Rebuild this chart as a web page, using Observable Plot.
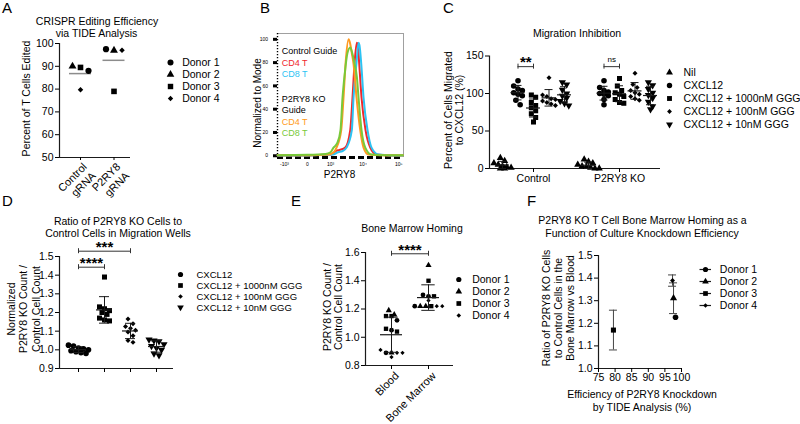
<!DOCTYPE html>
<html><head><meta charset="utf-8">
<script src="https://cdn.jsdelivr.net/npm/d3@7"></script>
<script src="https://cdn.jsdelivr.net/npm/@observablehq/plot@0.6"></script>
<style>
html,body{margin:0;padding:0;background:#fff;}
#root{position:relative;width:800px;height:424px;overflow:hidden;background:#fff;}
#root svg{position:absolute;left:0;top:0;}
</style></head><body><div id="root"></div>
<script>
// ================= DATA =================
const DONORS = ["Donor 1", "Donor 2", "Donor 3", "Donor 4"];
const DONOR_SYMBOLS = ["circle", "triangle", "square", "diamond2"];

// A – CRISPR editing efficiency (% edited), by donor
const A_GUIDES = ["Control\ngRNA", "P2RY8\ngRNA"];
const A_CONTROL = [88, 90, 89.5, 79.7];
const A_P2RY8 = [97.5, 97, 79, 97];
const A_YDOM = [50, 100];
const A_YTICKS = [50, 60, 70, 80, 90, 100];

// B – flow histograms (x: fluorescence, y: % of mode)
const B_RED_X = [-1700, 0, 1084, 1500, 2000, 3010, 4254, 4970, 5688, 6631, 7100, 7770, 9048, 11770, 16000, 24000, 50000, 130000];
const B_RED_Y = [0.3, 0.3, 1, 4, 5, 7, 22, 50, 79, 97, 95, 79, 50, 22, 7, 1, 0.3, 0.3];
const B_BLUE_X = [-1700, 0, 1200, 1800, 2500, 3297, 4743, 5318, 6500, 7423, 7900, 8880, 10320, 13410, 17380, 27300, 60000, 130000];
const B_BLUE_Y = [0.3, 0.3, 1, 3, 4, 7, 22, 50, 80, 97, 95, 79, 50, 22, 7, 1, 0.3, 0.3];
const B_ORANGE_X = [-1700, 0, 500, 843, 1300, 1603, 2266, 2671, 3100, 3784, 4254, 4743, 5318, 6500, 8310, 10320, 14300, 30000, 130000];
const B_ORANGE_Y = [0.5, 0.5, 0.8, 1, 3, 7, 22, 50, 80, 100, 96, 88, 79, 50, 22, 7, 1, 0.5, 0.5];
const B_GREEN_X = [-1700, 0, 644, 1000, 1272, 1700, 2150, 2487, 2900, 3500, 4254, 4900, 5700, 6631, 7423, 9048, 11550, 17380, 40000, 130000];
const B_GREEN_Y = [0.5, 0.8, 1.5, 3, 7, 11, 22, 50, 70, 88, 93, 88, 79, 68, 50, 22, 7, 1, 0.5, 0.5];
const B_XDOM = [-1728, 135000];
const B_YDOM = [-1.5, 105];
const B_XTICKS = [-1000, 0, 1000, 10000, 100000];
const B_XTICK_LABELS = ["-10³", "0", "10³", "10⁴", "10⁵"];
const B_YTICKS = [0, 20, 40, 60, 80, 100];

// C – migration (% of CXCL12)
const C_GENOTYPES = ["Control", "P2RY8 KO"];
const C_TREATMENTS = ["Nil", "CXCL12", "CXCL12 + 1000nM GGG", "CXCL12 + 100nM GGG", "CXCL12 + 10nM GGG"];
const C_SYMBOLS = ["triangle", "circle", "square", "diamond2", "triangle"];
const C_ROTATE = [0, 0, 0, 0, 180];
const C_CTRL_NIL = [14, 10, 7, 5, 3, 2, 1, 0, 0];
const C_CTRL_CXCL12 = [117, 110, 106, 104, 101, 99, 97, 91, 85];
const C_CTRL_1000 = [98, 95, 88, 84, 81, 77, 73, 68, 62];
const C_CTRL_100 = [121, 98, 96, 93, 92, 90, 88, 86, 84];
const C_CTRL_10 = [115, 112, 105, 100, 97, 94, 90, 87, 84];
const C_KO_NIL = [12, 9, 7, 5, 3, 2, 1, 0, 0];
const C_KO_CXCL12 = [117, 108, 104, 102, 100, 99, 97, 92, 85];
const C_KO_1000 = [120, 110, 104, 101, 99, 96, 92, 88, 87];
const C_KO_100 = [127, 112, 108, 104, 101, 99, 96, 93, 91];
const C_KO_10 = [115, 111, 106, 101, 98, 94, 89, 83, 79];
const C_YDOM = [0, 150];
const C_YTICKS = [0, 50, 100, 150];
const C_SIG_Y = 135.8;

// D – normalized KO / control ratio
const D_TREATMENTS = ["CXCL12", "CXCL12 + 1000nM GGG", "CXCL12 + 100nM GGG", "CXCL12 + 10nM GGG"];
const D_SYMBOLS = ["circle", "square", "diamond2", "triangle"];
const D_ROTATE = [0, 0, 0, 180];
const D_CXCL12 = [1.025, 1.02, 1.01, 1.005, 1.0, 0.995, 0.99, 0.985, 0.98];
const D_1000 = [1.39, 1.23, 1.22, 1.21, 1.20, 1.19, 1.17, 1.16, 1.155];
const D_100 = [1.165, 1.14, 1.125, 1.115, 1.105, 1.095, 1.075, 1.05, 1.04];
const D_10 = [1.055, 1.05, 1.045, 1.03, 1.02, 1.01, 1.0, 0.98, 0.97];
const D_YDOM = [0.9, 1.5];
const D_YTICKS = [0.9, 1.0, 1.1, 1.2, 1.3, 1.4, 1.5];
const D_SIG = [{a: 0, b: 1, y: 1.4427, label: "****"}, {a: 0, b: 2, y: 1.5284, label: "***"}];

// E – bone marrow homing
const E_TISSUES = ["Blood", "Bone Marrow"];
const E_BLOOD_D1 = [1.12, 1.05, 0.89];
const E_BLOOD_D2 = [1.19, 1.16, 0.89];
const E_BLOOD_D3 = [1.15, 1.15, 1.06, 1.04];
const E_BLOOD_D4 = [0.91, 0.89, 0.89, 0.86];
const E_BM_D1 = [1.30, 1.29, 1.22];
const E_BM_D2 = [1.51, 1.22, 1.22];
const E_BM_D3 = [1.40, 1.29, 1.22];
const E_BM_D4 = [1.26, 1.22, 1.22];
const E_YDOM = [0.8, 1.6];
const E_YTICKS = [0.8, 1.0, 1.2, 1.4, 1.6];
const E_SIG_Y = 1.591;

// F – homing ratio vs knockdown efficiency
const F_EFFICIENCY = [98.2, 97.6, 79.5, 97.3];
const F_RATIO = [1.227, 1.311, 1.17, 1.389];
const F_ERROR = [0, 0.068, 0.088, 0.025];
const F_XDOM = [75, 100];
const F_XTICKS = [75, 80, 85, 90, 95, 100];
const F_YDOM = [1.0, 1.5];
const F_YTICKS = [1.0, 1.1, 1.2, 1.3, 1.4, 1.5];

// ================= LAYOUT =================
const FONT = "'Liberation Sans', Arial, Helvetica, sans-serif";
const AXIS = "#1a1a1a";
const LAYOUT = {
  A: {left: 59, right: 130, top: 43, bottom: 157, c0: 80, c1: 113.5},
  B: {left: 277, right: 403, top: 33, bottom: 157},
  C: {left: 489, right: 660, top: 55.5, bottom: 168, c0: 533, c1: 619, subStep: 15.5},
  D: {left: 59, right: 173, top: 256, bottom: 368, c0: 78, c3: 156},
  E: {left: 365, right: 453, top: 252, bottom: 365, c0: 391, c1: 428},
  F: {left: 598, right: 681, top: 255, bottom: 368}
};
const COLORS = {red: "#f0282c", blue: "#2cc3f3", orange: "#ff9a20", green: "#78c93a"};

const root = document.getElementById("root");
const add = el => (root.appendChild(el), el);
const SVG_STYLE = `position:absolute;left:0;top:0;background:transparent;overflow:visible;font-family:${FONT};font-size:10.5px;color:#000;`;
function frameOf(P) {
  return {width: 800, height: 424, marginLeft: P.left, marginRight: 800 - P.right,
          marginTop: P.top, marginBottom: 424 - P.bottom, style: SVG_STYLE};
}
function domainFrom(P, p0, v0, p1, v1) {
  const k = (p1 - p0) / (v1 - v0);
  return [v0 + (P.left - p0) / k, v0 + (P.right - p0) / k];
}
// Prism-like scatter: values that are close vertically are laid side by side
function spreadOffsets(values, pxPerY, thrPx, stepPx) {
  const idx = d3.range(values.length).sort((a, b) => values[b] - values[a]);
  const offs = new Array(values.length).fill(0);
  let row = [];
  const flush = () => { row.forEach((i, j) => offs[i] = (j - (row.length - 1) / 2) * stepPx); row = []; };
  for (const i of idx) {
    if (row.length && (values[row[0]] - values[i]) * pxPerY > thrPx) flush();
    row.push(i);
  }
  flush();
  return offs;
}
const SYM_SCALE = {circle: 1, triangle: 0.95, square: 1.02, diamond2: 0.8};
function symbolDots(data, R, xKey = "x", yKey = "v") {
  return Object.keys(SYM_SCALE).map(s => Plot.dot(data, {
    filter: d => d.symbol === s, x: xKey, y: yKey, symbol: s, r: R * SYM_SCALE[s],
    rotate: d => d.rotate || 0, fill: "#000", stroke: "none"
  }));
}
function axisLines(xdom, ydom) {
  return [Plot.ruleX([xdom[0]], {stroke: AXIS, strokeWidth: 1.2}),
          Plot.ruleY([ydom[0]], {stroke: AXIS, strokeWidth: 1.2})];
}
// rotated (-45°) category labels, placed with the plot's own x scale
function rotatedLabels(plot, labels, axisY, dx, dy, size = 11) {
  const sx = plot.scale("x");
  const g = d3.select(root).append("svg").attr("width", 800).attr("height", 424)
    .attr("style", `position:absolute;left:0;top:0;overflow:visible;font-family:${FONT};`);
  labels.forEach((lab, i) => {
    const t = g.append("text")
      .attr("transform", `translate(${sx.apply(i) + dx},${axisY + dy}) rotate(-45)`)
      .attr("text-anchor", "end").attr("font-size", size).attr("fill", "#000");
    lab.split("\n").forEach((line, j) => t.append("tspan").attr("x", 0).attr("y", 0)
      .attr("dy", (0.71 + j * 1.15) + "em").text(line));
  });
}
function legendPlot({labels, symbols, rotates, x, y0, y1, textX, fontSize = 10.5, R = 2.8, line = false}) {
  const rows = labels.map((label, i) => ({label, symbol: symbols[i], rotate: rotates ? rotates[i] : 0, x: 0}));
  return Plot.plot({
    width: 800, height: 424, margin: 0, style: SVG_STYLE,
    x: {domain: [0, 1], range: [x, x + 1], axis: null},
    y: {type: "point", domain: labels, range: [y0, y1], axis: null},
    marks: [
      line ? Plot.ruleY(rows, {y: "label", x1: -5.5, x2: 6, stroke: AXIS, strokeWidth: 1.2}) : null,
      ...symbolDots(rows, R, "x", "label"),
      Plot.text(rows, {x: 0, y: "label", text: "label", dx: textX - x, textAnchor: "start", fontSize, fill: "#000"})
    ]
  });
}
const fmt1 = d3.format(".1f");

// ================= PANEL A =================
{
  const P = LAYOUT.A;
  const XD = domainFrom(P, P.c0, 0, P.c1, 1);
  const kx = (P.right - P.left) / (XD[1] - XD[0]);
  const ky = (P.bottom - P.top) / (A_YDOM[1] - A_YDOM[0]);
  const groups = [A_CONTROL, A_P2RY8];
  const data = groups.flatMap((vals, g) => {
    const o = spreadOffsets(vals, ky, 6, 8);
    return vals.map((v, i) => ({x: g + o[i] / kx, v, symbol: DONOR_SYMBOLS[i]}));
  });
  const means = groups.map((vals, g) => ({g, mean: d3.mean(vals)}));
  const plot = add(Plot.plot({...frameOf(P), x: {domain: XD}, y: {domain: A_YDOM},
    marks: [
      ...axisLines(XD, A_YDOM),
      Plot.axisY({ticks: A_YTICKS, tickSize: 4, tickPadding: 2, fontSize: 10.5, label: null}),
      Plot.axisX({ticks: [0, 1], tickFormat: () => "", tickSize: 3, label: null}),
      Plot.ruleY(means, {y: "mean", x1: d => d.g - 11 / kx, x2: d => d.g + 11 / kx, stroke: "#8c8c8c", strokeWidth: 1.5}),
      ...symbolDots(data, 3.1)
    ]}));
  rotatedLabels(plot, A_GUIDES, P.bottom, 2, 5);
  add(legendPlot({labels: DONORS, symbols: DONOR_SYMBOLS, x: 170, y0: 54, y1: 105.3, textX: 181.7, R: 3}));
}

// ================= PANEL B =================
{
  const P = LAYOUT.B;
  const curves = [[B_RED_X, B_RED_Y, COLORS.red], [B_BLUE_X, B_BLUE_Y, COLORS.blue],
                  [B_ORANGE_X, B_ORANGE_Y, COLORS.orange], [B_GREEN_X, B_GREEN_Y, COLORS.green]];
  const labelMap = new Map(B_XTICKS.map((t, i) => [t, B_XTICK_LABELS[i]]));
  add(Plot.plot({...frameOf(P),
    x: {type: "symlog", constant: 300, domain: B_XDOM},
    y: {domain: B_YDOM},
    marks: [
      Plot.ruleY([B_YDOM[1]], {stroke: "#a0a0a0", strokeWidth: 1}),
      Plot.ruleX([B_XDOM[1]], {stroke: "#a0a0a0", strokeWidth: 1}),
      Plot.ruleX([B_XDOM[0]], {stroke: "#000", strokeWidth: 1.4, strokeDasharray: "1.2,1.8"}),
      Plot.ruleY([B_YDOM[0]], {stroke: "#000", strokeWidth: 3, strokeDasharray: "6,3"}),
      Plot.axisY({ticks: B_YTICKS, tickSize: 4, strokeWidth: 3, tickPadding: 5.5, fontSize: 5, label: null}),
      Plot.axisX({ticks: B_XTICKS, tickFormat: d => labelMap.get(d), tickSize: 0, tickPadding: 5, fontSize: 5, label: null}),
      ...curves.map(([xs, ys, c]) => Plot.line(xs.map((x, i) => ({x, y: ys[i]})),
        {x: "x", y: "y", stroke: c, strokeWidth: 2, curve: "monotone-x", strokeLinejoin: "round"}))
    ]}));
}

// ================= PANEL C =================
{
  const P = LAYOUT.C;
  const XD = domainFrom(P, P.c0, 0, P.c1, 1);
  const kx = (P.right - P.left) / (XD[1] - XD[0]);
  const ky = (P.bottom - P.top) / (C_YDOM[1] - C_YDOM[0]);
  const table = [[C_CTRL_NIL, C_CTRL_CXCL12, C_CTRL_1000, C_CTRL_100, C_CTRL_10],
                 [C_KO_NIL, C_KO_CXCL12, C_KO_1000, C_KO_100, C_KO_10]];
  const center = (g, t) => g + (t - 2) * P.subStep / kx;
  const data = [], stats = [];
  table.forEach((row, g) => row.forEach((vals, t) => {
    const o = spreadOffsets(vals, ky, 5, 4.3);
    vals.forEach((v, i) => data.push({x: center(g, t) + o[i] / kx, v, symbol: C_SYMBOLS[t], rotate: C_ROTATE[t]}));
    stats.push({x: center(g, t), mean: d3.mean(vals), sd: d3.deviation(vals)});
  }));
  const caps = stats.flatMap(s => [{x: s.x, y: s.mean - s.sd}, {x: s.x, y: s.mean + s.sd}]);
  const sig = [{x1: center(0, 1), x2: center(0, 2), y: C_SIG_Y, label: "**"},
               {x1: center(1, 1), x2: center(1, 2), y: C_SIG_Y, label: "ns"}];
  const ends = sig.flatMap(s => [{x: s.x1, y: s.y}, {x: s.x2, y: s.y}]);
  add(Plot.plot({...frameOf(P), x: {domain: XD}, y: {domain: C_YDOM},
    marks: [
      ...axisLines(XD, C_YDOM),
      Plot.axisY({ticks: C_YTICKS, tickSize: 4, tickPadding: 2, fontSize: 10.5, label: null}),
      Plot.axisX({ticks: [0, 1], tickFormat: d => C_GENOTYPES[d], tickSize: 4, tickPadding: 2, fontSize: 10.5, label: null}),
      ...symbolDots(data, 2.8),
      Plot.ruleX(stats, {x: "x", y1: d => d.mean - d.sd, y2: d => d.mean + d.sd, stroke: AXIS, strokeWidth: 1}),
      Plot.ruleY(caps, {y: "y", x1: d => d.x - 4 / kx, x2: d => d.x + 4 / kx, stroke: AXIS, strokeWidth: 1}),
      Plot.ruleY(stats, {y: "mean", x1: d => d.x - 7 / kx, x2: d => d.x + 7 / kx, stroke: AXIS, strokeWidth: 1.2}),
      Plot.ruleY(sig, {y: "y", x1: "x1", x2: "x2", stroke: "#333", strokeWidth: 1}),
      Plot.ruleX(ends, {x: "x", y1: d => d.y - 2.5 / ky, y2: d => d.y + 2.5 / ky, stroke: "#333", strokeWidth: 1}),
      Plot.text(sig.filter(s => s.label !== "ns"), {x: d => (d.x1 + d.x2) / 2, y: "y", text: "label", fontSize: 15, dy: -4, fontWeight: "bold"}),
      Plot.text(sig.filter(s => s.label === "ns"), {x: d => (d.x1 + d.x2) / 2, y: "y", text: "label", fontSize: 8, dy: -7})
    ]}));
  add(legendPlot({labels: C_TREATMENTS, symbols: C_SYMBOLS, rotates: C_ROTATE, x: 669, y0: 63.3, y1: 133, textX: 683, R: 2.7}));
}

// ================= PANEL D =================
{
  const P = LAYOUT.D;
  const XD = domainFrom(P, P.c0, 0, P.c3, 3);
  const kx = (P.right - P.left) / (XD[1] - XD[0]);
  const ky = (P.bottom - P.top) / (D_YDOM[1] - D_YDOM[0]);
  const groups = [D_CXCL12, D_1000, D_100, D_10];
  const data = [], stats = [];
  groups.forEach((vals, g) => {
    const o = spreadOffsets(vals, ky, 5, 5);
    vals.forEach((v, i) => data.push({x: g + o[i] / kx, v, symbol: D_SYMBOLS[g], rotate: D_ROTATE[g]}));
    stats.push({x: g, mean: d3.mean(vals), sd: d3.deviation(vals)});
  });
  const caps = stats.flatMap(s => [{x: s.x, y: s.mean - s.sd}, {x: s.x, y: s.mean + s.sd}]);
  const ends = D_SIG.flatMap(s => [{x: s.a, y: s.y}, {x: s.b, y: s.y}]);
  add(Plot.plot({...frameOf(P), x: {domain: XD}, y: {domain: D_YDOM},
    marks: [
      ...axisLines(XD, D_YDOM),
      Plot.axisY({ticks: D_YTICKS, tickFormat: fmt1, tickSize: 4, tickPadding: 2, fontSize: 10.5, label: null}),
      Plot.axisX({ticks: [0, 1, 2, 3], tickFormat: () => "", tickSize: 4, label: null}),
      ...symbolDots(data, 2.8),
      Plot.ruleX(stats, {x: "x", y1: d => d.mean - d.sd, y2: d => d.mean + d.sd, stroke: AXIS, strokeWidth: 1}),
      Plot.ruleY(caps, {y: "y", x1: d => d.x - 5 / kx, x2: d => d.x + 5 / kx, stroke: AXIS, strokeWidth: 1}),
      Plot.ruleY(stats, {y: "mean", x1: d => d.x - 8 / kx, x2: d => d.x + 8 / kx, stroke: AXIS, strokeWidth: 1.2}),
      Plot.ruleY(D_SIG, {y: "y", x1: "a", x2: "b", stroke: "#333", strokeWidth: 1}),
      Plot.ruleX(ends, {x: "x", y1: d => d.y - 2.5 / ky, y2: d => d.y + 2.5 / ky, stroke: "#333", strokeWidth: 1}),
      Plot.text(D_SIG, {x: d => (d.a + d.b) / 2, y: "y", text: "label", fontSize: 15, dy: -4, fontWeight: "bold"})
    ]}));
  add(legendPlot({labels: D_TREATMENTS, symbols: D_SYMBOLS, rotates: D_ROTATE, x: 180, y0: 266.7, y1: 313.3, textX: 196, fontSize: 9.5, R: 2.6}));
}

// ================= PANEL E =================
{
  const P = LAYOUT.E;
  const XD = domainFrom(P, P.c0, 0, P.c1, 1);
  const kx = (P.right - P.left) / (XD[1] - XD[0]);
  const ky = (P.bottom - P.top) / (E_YDOM[1] - E_YDOM[0]);
  const tissues = [[E_BLOOD_D1, E_BLOOD_D2, E_BLOOD_D3, E_BLOOD_D4], [E_BM_D1, E_BM_D2, E_BM_D3, E_BM_D4]];
  const data = [], stats = [];
  tissues.forEach((donorVals, g) => {
    const flat = donorVals.flatMap((vals, d) => vals.map(v => ({v, d})));
    const o = spreadOffsets(flat.map(p => p.v), ky, 5, 5.5);
    flat.forEach((p, i) => data.push({x: g + o[i] / kx, v: p.v, symbol: DONOR_SYMBOLS[p.d]}));
    const vs = flat.map(p => p.v);
    stats.push({x: g, mean: d3.mean(vs), sd: d3.deviation(vs)});
  });
  const caps = stats.flatMap(s => [{x: s.x, y: s.mean - s.sd}, {x: s.x, y: s.mean + s.sd}]);
  const sig = [{a: 0, b: 1, y: E_SIG_Y, label: "****"}];
  const ends = sig.flatMap(s => [{x: s.a, y: s.y}, {x: s.b, y: s.y}]);
  const plot = add(Plot.plot({...frameOf(P), x: {domain: XD}, y: {domain: E_YDOM},
    marks: [
      ...axisLines(XD, E_YDOM),
      Plot.axisY({ticks: E_YTICKS, tickFormat: fmt1, tickSize: 4, tickPadding: 2, fontSize: 10.5, label: null}),
      Plot.axisX({ticks: [0, 1], tickFormat: () => "", tickSize: 4, label: null}),
      ...symbolDots(data, 2.4),
      Plot.ruleX(stats, {x: "x", y1: d => d.mean - d.sd, y2: d => d.mean + d.sd, stroke: AXIS, strokeWidth: 1}),
      Plot.ruleY(caps, {y: "y", x1: d => d.x - 6.7 / kx, x2: d => d.x + 6.7 / kx, stroke: AXIS, strokeWidth: 1}),
      Plot.ruleY(stats, {y: "mean", x1: d => d.x - 11 / kx, x2: d => d.x + 11 / kx, stroke: AXIS, strokeWidth: 1.2}),
      Plot.ruleY(sig, {y: "y", x1: "a", x2: "b", stroke: "#333", strokeWidth: 1}),
      Plot.ruleX(ends, {x: "x", y1: d => d.y - 2.5 / ky, y2: d => d.y + 2.5 / ky, stroke: "#333", strokeWidth: 1}),
      Plot.text(sig, {x: d => (d.a + d.b) / 2, y: "y", text: "label", fontSize: 15, dy: -4, fontWeight: "bold"})
    ]}));
  rotatedLabels(plot, E_TISSUES, P.bottom, 3, 6);
  add(legendPlot({labels: DONORS, symbols: DONOR_SYMBOLS, x: 458.3, y0: 271.7, y1: 322.7, textX: 471.7, R: 2.6}));
}

// ================= PANEL F =================
{
  const P = LAYOUT.F;
  const kx = (P.right - P.left) / (F_XDOM[1] - F_XDOM[0]);
  const rows = DONORS.map((d, i) => ({x: F_EFFICIENCY[i], v: F_RATIO[i], e: F_ERROR[i], symbol: DONOR_SYMBOLS[i]}));
  const withErr = rows.filter(r => r.e > 0);
  const caps = withErr.flatMap(r => [{x: r.x, y: r.v - r.e}, {x: r.x, y: r.v + r.e}]);
  add(Plot.plot({...frameOf(P), x: {domain: F_XDOM}, y: {domain: F_YDOM},
    marks: [
      ...axisLines(F_XDOM, F_YDOM),
      Plot.axisY({ticks: F_YTICKS, tickFormat: fmt1, tickSize: 4, tickPadding: 2, fontSize: 10.5, label: null}),
      Plot.axisX({ticks: F_XTICKS, tickSize: 4, tickPadding: 1.5, fontSize: 10.5, label: null}),
      Plot.ruleX(withErr, {x: "x", y1: d => d.v - d.e, y2: d => d.v + d.e, stroke: "#444", strokeWidth: 1}),
      Plot.ruleY(caps, {y: "y", x1: d => d.x - 4 / kx, x2: d => d.x + 4 / kx, stroke: "#444", strokeWidth: 1}),
      ...symbolDots(rows, 2.8)
    ]}));
  add(legendPlot({labels: DONORS, symbols: DONOR_SYMBOLS, x: 705, y0: 263, y1: 311, textX: 719.3, R: 2.6, line: true}));
}

// ================= TEXT OVERLAY (letters, titles, axis titles) =================
const ANNOT = [
  {t: "A", x: 2, y: 13, s: 15}, {t: "B", x: 260, y: 13, s: 15}, {t: "C", x: 443, y: 13, s: 15},
  {t: "D", x: 2, y: 206, s: 15}, {t: "E", x: 291, y: 206, s: 15}, {t: "F", x: 527, y: 206, s: 15},
  {t: "CRISPR Editing Efficiency", x: 97, y: 25, a: "middle"},
  {t: "via TIDE Analysis", x: 96.5, y: 36.5, a: "middle"},
  {t: "Migration Inhibition", x: 577, y: 36.5, a: "middle"},
  {t: "Ratio of P2RY8 KO Cells to", x: 118, y: 225, a: "middle"},
  {t: "Control Cells in Migration Wells", x: 118, y: 236.7, a: "middle"},
  {t: "Bone Marrow Homing", x: 412, y: 232, a: "middle"},
  {t: "P2RY8 KO T Cell Bone Marrow Homing as a", x: 642.5, y: 224, a: "middle"},
  {t: "Function of Culture Knockdown Efficiency", x: 642, y: 236.7, a: "middle"},
  {t: "Percent of T Cells Edited", x: 29.5, y: 98.5, a: "middle", r: -90},
  {t: "Normalized to Mode", x: 260.5, y: 103, a: "middle", r: -90, s: 10},
  {t: "P2RY8", x: 339.5, y: 178, a: "middle", s: 10},
  {t: "Percent of Cells Migrated", x: 451.5, y: 110, a: "middle", r: -90},
  {t: "to CXCL12 (%)", x: 463, y: 110, a: "middle", r: -90},
  {t: "Normalized", x: 14.5, y: 309, a: "middle", r: -90},
  {t: "P2RY8 KO Count /", x: 27, y: 309, a: "middle", r: -90},
  {t: "Control Cell Count", x: 39.5, y: 309, a: "middle", r: -90},
  {t: "P2RY8 KO Count /", x: 330.5, y: 307, a: "middle", r: -90},
  {t: "Control Cell Count", x: 342, y: 307, a: "middle", r: -90},
  {t: "Ratio of P2RY8 KO Cells", x: 549.5, y: 308, a: "middle", r: -90},
  {t: "to Control Cells in the", x: 562, y: 308, a: "middle", r: -90},
  {t: "Bone Marrow vs Blood", x: 574, y: 308, a: "middle", r: -90},
  {t: "Efficiency of P2RY8 Knockdown", x: 642, y: 398, a: "middle"},
  {t: "by TIDE Analysis (%)", x: 642, y: 410.5, a: "middle"},
  {t: "Control Guide", x: 281.7, y: 54.3, s: 9},
  {t: "CD4 T", x: 281.7, y: 65.7, s: 9, f: COLORS.red},
  {t: "CD8 T", x: 281.7, y: 76.7, s: 9, f: COLORS.blue},
  {t: "P2RY8 KO", x: 281.7, y: 102.3, s: 9},
  {t: "Guide", x: 281.7, y: 113.3, s: 9},
  {t: "CD4 T", x: 281.7, y: 125, s: 9, f: COLORS.orange},
  {t: "CD8 T", x: 281.7, y: 136, s: 9, f: COLORS.green}
];
const ov = d3.select(root).append("svg").attr("width", 800).attr("height", 424)
  .attr("style", `position:absolute;left:0;top:0;overflow:visible;font-family:${FONT};`);
ANNOT.forEach(d => {
  ov.append("text")
    .attr("transform", `translate(${d.x},${d.y})` + (d.r ? ` rotate(${d.r})` : ""))
    .attr("text-anchor", d.a || "start")
    .attr("font-size", d.s || 10.5)
    .attr("fill", d.f || "#000")
    .text(d.t);
});
</script>
</body></html>
